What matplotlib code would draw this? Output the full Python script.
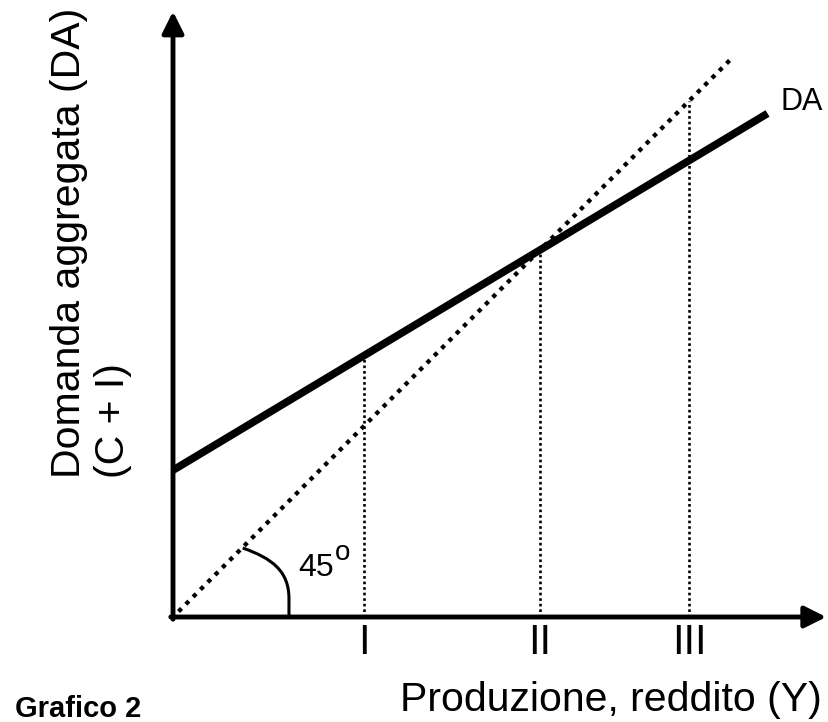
import matplotlib
matplotlib.use("Agg")
import numpy as np
import matplotlib.pyplot as plt
from matplotlib.path import Path
from matplotlib.patches import PathPatch

plt.rcParams['font.family'] = ['Liberation Sans', 'DejaVu Sans']

# Keynesian cross: DA = C + I = intercept + slope * Y
da_intercept = 40
da_slope = 0.6
da_y_end = 162
line45_start, line45_end = 1.5, 152
levels = [52, 100, 140.6]
level_labels = ['I', 'II', 'III']
x_max, y_max = 178, 165

px = 3.67  # pixels per data unit
W, H = 829, 722
fig = plt.figure(figsize=(W / 100, H / 100), dpi=100)
ax = fig.add_axes([173 / W, 105 / H, 180 * px / W, 166 * px / H])
ax.set_xlim(0, 180)
ax.set_ylim(0, 166)
ax.axis('off')

# axes with arrows
arrow = dict(arrowstyle='-|>,head_length=1.3,head_width=0.65', lw=3.5, color='black',
             shrinkA=0, shrinkB=0)
ax.annotate('', xy=(x_max, 0), xytext=(-0.6, 0), arrowprops=arrow, annotation_clip=False)
ax.annotate('', xy=(0, y_max), xytext=(0, -0.6), arrowprops=arrow, annotation_clip=False)

# DA line
yy = np.array([0, da_y_end])
ax.plot(yy, da_intercept + da_slope * yy, color='black', lw=5.5, solid_capstyle='butt',
        clip_on=False)

# 45 degree line
yy45 = np.array([line45_start, line45_end])
ax.plot(yy45, yy45, color='black', lw=3.1, linestyle=(0, (1, 1.4)),
        dash_capstyle='butt', clip_on=False)

# vertical dotted lines and labels
for lv, lab in zip(levels, level_labels):
    top = max(lv, da_intercept + da_slope * lv)
    ax.plot([lv, lv], [0, top], color='black', lw=1.9, linestyle=(0, (1, 1.1)),
            dash_capstyle='butt')
    ax.text(lv, -10, lab, ha='center', va='baseline', fontsize=30, clip_on=False)

# angle mark
verts = [(19, 18.8), (27, 16), (31.6, 12.5), (31.6, 5), (31.6, 0)]
codes = [Path.MOVETO, Path.CURVE4, Path.CURVE4, Path.CURVE4, Path.LINETO]
ax.add_patch(PathPatch(Path(verts, codes), fill=False, lw=2.2, color='black'))
ax.text(34, 11.2, '45', ha='left', va='baseline', fontsize=23)
ax.text(44.1, 15.5, 'o', ha='left', va='baseline', fontsize=20)

ax.text(165.4, 138.1, 'DA', ha='left', va='baseline', fontsize=22, clip_on=False)

fig.text(822 / W, 1 - 711 / H, 'Produzione, reddito (Y)', ha='right', va='baseline',
         fontsize=29.5)
fig.text(50 / W, 1 - 478 / H, 'Domanda aggregata (DA)\n(C + I)', rotation=90,
         ha='left', va='bottom', multialignment='left', fontsize=29.5)
fig.text(15 / W, 1 - 717 / H, 'Grafico 2', ha='left', va='baseline', fontsize=21,
         fontweight='bold')

fig.savefig('out.png', dpi=100)
